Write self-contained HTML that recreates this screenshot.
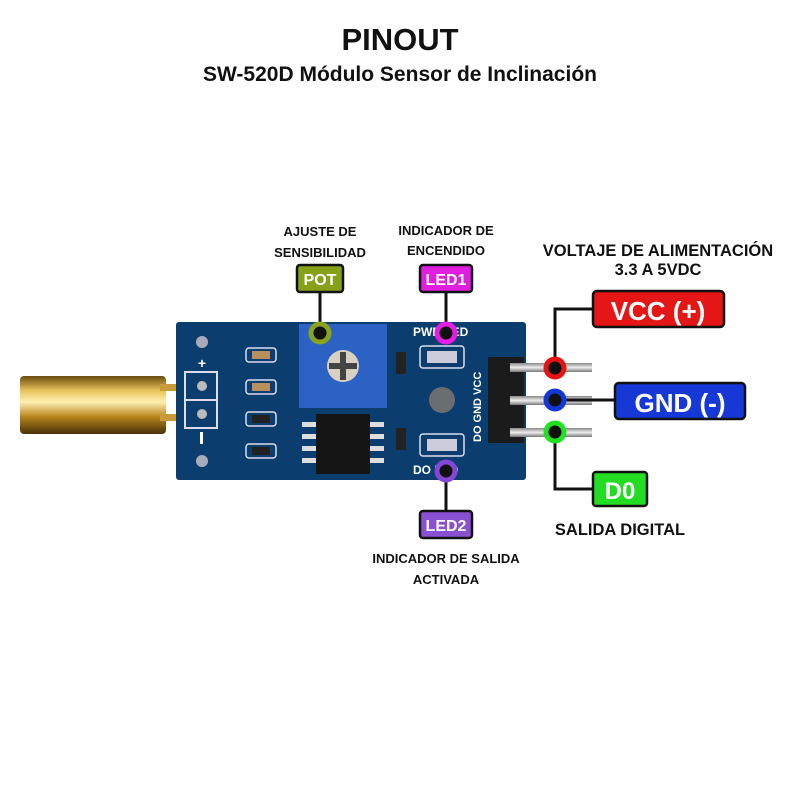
<!DOCTYPE html>
<html><head><meta charset="utf-8"><style>
html,body{margin:0;padding:0;background:#fff;width:800px;height:800px;overflow:hidden}
svg{display:block}
text{font-family:"Liberation Sans","DejaVu Sans",sans-serif;font-weight:bold}
</style></head><body>
<svg width="800" height="800" viewBox="0 0 800 800" xmlns="http://www.w3.org/2000/svg">
<defs>
<linearGradient id="brass" x1="0" y1="0" x2="0" y2="1">
<stop offset="0" stop-color="#6b4a0e"/><stop offset="0.25" stop-color="#e8c25a"/><stop offset="0.45" stop-color="#fff0b0"/><stop offset="0.7" stop-color="#b8861e"/><stop offset="1" stop-color="#4a3008"/>
</linearGradient>
<linearGradient id="pin" x1="0" y1="0" x2="0" y2="1">
<stop offset="0" stop-color="#888"/><stop offset="0.5" stop-color="#eee"/><stop offset="1" stop-color="#777"/>
</linearGradient>
</defs>
<text x="400" y="50" font-size="31" text-anchor="middle" fill="#111">PINOUT</text>
<text x="400" y="81" font-size="21" text-anchor="middle" fill="#111">SW-520D Módulo Sensor de Inclinación</text>

<!-- brass cylinder -->
<rect x="20" y="376" width="146" height="58" rx="4" fill="url(#brass)"/>
<rect x="160" y="384" width="40" height="7" fill="#c89a3a"/>
<rect x="160" y="414" width="40" height="7" fill="#c89a3a"/>

<!-- board -->
<rect x="176" y="322" width="350" height="158" rx="3" fill="#0b3d6e"/>
<circle cx="202" cy="342" r="6" fill="#aab"/>
<circle cx="202" cy="461" r="6" fill="#aab"/>
<rect x="185" y="372" width="32" height="56" fill="none" stroke="#dde" stroke-width="2"/>
<line x1="185" y1="400" x2="217" y2="400" stroke="#dde" stroke-width="2"/>
<circle cx="202" cy="386" r="5" fill="#bbb"/><circle cx="202" cy="414" r="5" fill="#bbb"/>
<text x="202" y="368" font-size="14" fill="#fff" text-anchor="middle">+</text>
<rect x="200" y="432" width="3" height="12" fill="#fff"/>
<g fill="none" stroke="#dde" stroke-width="1.5">
<rect x="246" y="348" width="30" height="14" rx="3"/><rect x="246" y="380" width="30" height="14" rx="3"/>
<rect x="246" y="412" width="30" height="14" rx="3"/><rect x="246" y="444" width="30" height="14" rx="3"/>
<rect x="420" y="346" width="44" height="22" rx="3"/><rect x="420" y="434" width="44" height="22" rx="3"/>
</g>
<g fill="#b89060"><rect x="252" y="351" width="18" height="8"/><rect x="252" y="383" width="18" height="8"/></g>
<g fill="#222"><rect x="252" y="415" width="18" height="8"/><rect x="252" y="447" width="18" height="8"/>
<rect x="396" y="352" width="10" height="22"/><rect x="396" y="428" width="10" height="22"/></g>
<rect x="427" y="351" width="30" height="12" fill="#ccd"/><rect x="427" y="439" width="30" height="12" fill="#ccd"/>
<circle cx="442" cy="400" r="13" fill="#6a6d72"/>
<text x="413" y="336" font-size="12" fill="#fff">PWR LED</text>
<text x="413" y="474" font-size="12" fill="#fff">DO LED</text>
<text x="481" y="442" font-size="11" fill="#fff" transform="rotate(-90 481 442)">DO GND VCC</text>
<!-- pot -->
<rect x="299" y="324" width="88" height="84" fill="#2b62c4"/>
<circle cx="343" cy="366" r="16" fill="#d8d0c0"/>
<rect x="340" y="352" width="6" height="28" fill="#444"/><rect x="329" y="363" width="28" height="6" fill="#444"/>
<!-- IC -->
<g fill="#ddd"><rect x="302" y="422" width="14" height="5"/><rect x="302" y="434" width="14" height="5"/><rect x="302" y="446" width="14" height="5"/><rect x="302" y="458" width="14" height="5"/>
<rect x="370" y="422" width="14" height="5"/><rect x="370" y="434" width="14" height="5"/><rect x="370" y="446" width="14" height="5"/><rect x="370" y="458" width="14" height="5"/></g>
<rect x="316" y="414" width="54" height="60" fill="#151515"/>
<!-- header -->
<rect x="488" y="357" width="36" height="86" fill="#1b1b1b"/>
<rect x="510" y="363" width="82" height="9" fill="url(#pin)"/>
<rect x="510" y="396" width="82" height="9" fill="url(#pin)"/>
<rect x="510" y="428" width="82" height="9" fill="url(#pin)"/>

<!-- connectors -->
<g stroke="#111" stroke-width="3" fill="none">
<line x1="320" y1="292" x2="320" y2="333"/>
<line x1="446" y1="292" x2="446" y2="333"/>
<line x1="446" y1="471" x2="446" y2="511"/>
<polyline points="555,368 555,309 594,309"/>
<line x1="555" y1="400" x2="616" y2="400"/>
<polyline points="555,432 555,489 594,489"/>
</g>
<g stroke-width="5">
<circle cx="320" cy="333" r="9" fill="#111" stroke="#8aa31c"/>
<circle cx="446" cy="333" r="9" fill="#111" stroke="#e31de3"/>
<circle cx="446" cy="471" r="9" fill="#111" stroke="#8446d4"/>
<circle cx="555" cy="368" r="9" fill="#111" stroke="#e81414"/>
<circle cx="555" cy="400" r="9" fill="#111" stroke="#1437d8"/>
<circle cx="555" cy="432" r="9" fill="#111" stroke="#22e022"/>
</g>

<!-- label boxes -->
<g stroke="#111" stroke-width="2.5">
<rect x="297" y="265" width="46" height="27" rx="3" fill="#86a017"/>
<rect x="420" y="265" width="52" height="27" rx="3" fill="#df1edf"/>
<rect x="420" y="511" width="52" height="27" rx="3" fill="#8a50d2"/>
<rect x="593" y="291" width="131" height="36" rx="4" fill="#e41616"/>
<rect x="615" y="383" width="130" height="36" rx="4" fill="#1638d6"/>
<rect x="593" y="472" width="54" height="34" rx="3" fill="#22dd22"/>
</g>
<g fill="#fff" text-anchor="middle">
<text x="320" y="285" font-size="16">POT</text>
<text x="446" y="285" font-size="16">LED1</text>
<text x="446" y="531" font-size="16">LED2</text>
<text x="658" y="320" font-size="26">VCC (+)</text>
<text x="680" y="412" font-size="26">GND (-)</text>
<text x="620" y="499" font-size="24">D0</text>
</g>
<g fill="#111" text-anchor="middle" font-size="13">
<text x="320" y="236">AJUSTE DE</text>
<text x="320" y="257">SENSIBILIDAD</text>
<text x="446" y="235">INDICADOR DE</text>
<text x="446" y="255">ENCENDIDO</text>
<text x="446" y="563">INDICADOR DE SALIDA</text>
<text x="446" y="584">ACTIVADA</text>
</g>
<g fill="#111" text-anchor="middle" font-size="16.5">
<text x="658" y="256">VOLTAJE DE ALIMENTACIÓN</text>
<text x="658" y="275">3.3 A 5VDC</text>
<text x="620" y="535">SALIDA DIGITAL</text>
</g>
</svg>
</body></html>
